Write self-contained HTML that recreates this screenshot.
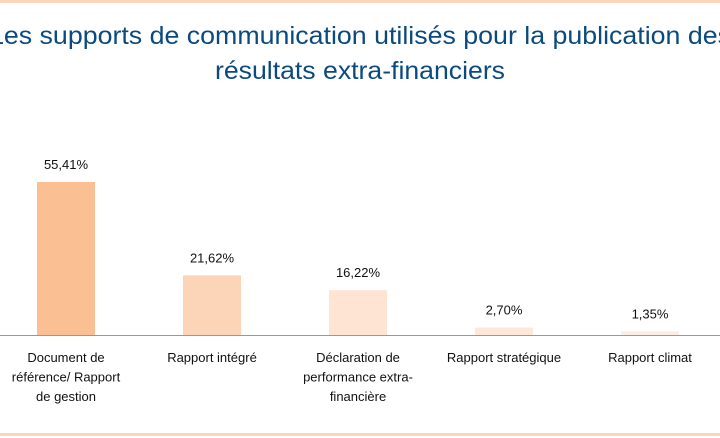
<!DOCTYPE html>
<html><head><meta charset="utf-8"><style>
body{margin:0;background:#fff;}
svg{display:block;font-family:"Liberation Sans",sans-serif;}
</style></head><body>
<svg id="c" width="720" height="438">
<rect x="0" y="0" width="720" height="3" fill="#fdd5bb"/>
<text x="360" y="44" text-anchor="middle" font-size="25" fill="#0b4a7e" textLength="742" lengthAdjust="spacingAndGlyphs">Les supports de communication utilisés pour la publication des</text>
<text x="360" y="79" text-anchor="middle" font-size="25" fill="#0b4a7e" textLength="290" lengthAdjust="spacingAndGlyphs">résultats extra-financiers</text>
<line x1="0" y1="335.5" x2="720" y2="335.5" stroke="#999" stroke-width="1"/>
<rect x="0" y="433" width="720" height="3" fill="#fdd5bb"/>
<g id="bars"></g>
</svg>
<script>
const categories=[["Document de","référence/ Rapport","de gestion"],["Rapport intégré"],["Déclaration de","performance extra-","financière"],["Rapport stratégique"],["Rapport climat"]];
const values=[55.41,21.62,16.22,2.70,1.35];
const valueLabels=["55,41%","21,62%","16,22%","2,70%","1,35%"];
const colors=["#fbbf94","#fcd5b9","#fde4d3","#fde8da","#fdeee3"];
const ns="http://www.w3.org/2000/svg";
const g=document.getElementById('bars');
const base=335, pxPer=153/55.41;
const xc=i=>66+i*146;
const y=v=>base-v*pxPer;
values.forEach((v,i)=>{
  const r=document.createElementNS(ns,'rect');
  r.setAttribute('x',xc(i)-29);r.setAttribute('y',y(v));
  r.setAttribute('width',58);r.setAttribute('height',base-y(v));
  r.setAttribute('fill',colors[i]);
  
  
  g.appendChild(r);
  const t=document.createElementNS(ns,'text');
  t.setAttribute('x',xc(i));t.setAttribute('y',y(v)-13);
  t.setAttribute('text-anchor','middle');t.setAttribute('font-size','13');t.setAttribute('fill','#111');
  t.textContent=valueLabels[i];
  
  
  g.appendChild(t);
  categories[i].forEach((line,j)=>{
    const c=document.createElementNS(ns,'text');
    c.setAttribute('x',xc(i));c.setAttribute('y',362+j*19.5);
    c.setAttribute('text-anchor','middle');c.setAttribute('font-size','13');c.setAttribute('fill','#111');
    c.textContent=line;
    
    
    g.appendChild(c);
  });
});
</script>
</body></html>
